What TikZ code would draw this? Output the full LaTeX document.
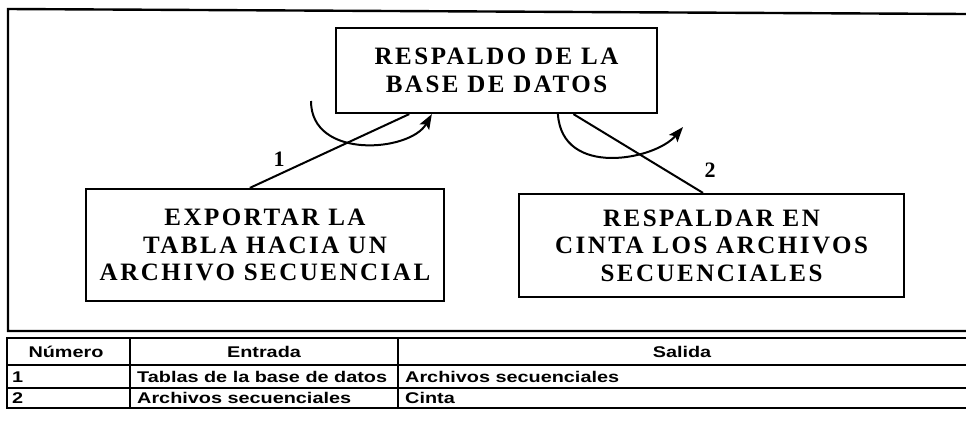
\documentclass[tikz,border=0pt]{standalone}
\usepackage{fontspec}
\usetikzlibrary{arrows.meta,calc}
\newfontfamily\boxfont[LetterSpace=10]{Liberation Serif}
\newfontfamily\labfont{Liberation Serif}
\newfontfamily\tabfont[FakeStretch=1.28]{Liberation Sans}
\tikzset{
  procbox/.style={draw, line width=2.2pt, inner sep=0pt, align=center,
    font=\boxfont\bfseries\fontsize{25}{27.5}\selectfont},
  conn/.style={line width=2pt},
  flowarrow/.style={line width=2pt, -{Stealth[length=15pt,width=11pt,inset=3pt]}},
  numlabel/.style={font=\labfont\bfseries\fontsize{22}{24}\selectfont, inner sep=0pt},
  frameline/.style={line width=2.4pt},
  tabline/.style={line width=1.8pt},
  tabtext/.style={font=\tabfont\bfseries\fontsize{15.5}{17}\selectfont, inner sep=0pt, anchor=base west},
  tabhead/.style={font=\tabfont\bfseries\fontsize{15.5}{17}\selectfont, inner sep=0pt, anchor=base}
}
\begin{document}
\begin{tikzpicture}[x=1pt,y=-1pt]
\useasboundingbox (0,0) rectangle (966,445);

% outer frame of the diagram (open on the right)
\draw[frameline] (966,14) -- (8,9) -- (8,331) -- (966,331);

% process boxes
\node[procbox, minimum width=321pt, minimum height=85pt] (top) at (496.5,70.5)
  {RESPALDO DE LA\\BASE DE DATOS};
\node[procbox, minimum width=358pt, minimum height=112pt] (left) at (265,245)
  {EXPORTAR LA\\TABLA HACIA UN\\ARCHIVO SECUENCIAL};
\node[procbox, minimum width=385pt, minimum height=103pt] (right) at (711.5,245.5)
  {RESPALDAR EN\\CINTA LOS ARCHIVOS\\SECUENCIALES};

% connectors
\draw[conn] ($(left.north west)!0.458!(left.north east)$) -- ($(top.south west)!0.23!(top.south east)$);
\draw[conn] ($(top.south west)!0.738!(top.south east)$) -- ($(right.north west)!0.478!(right.north east)$);

\node[numlabel] (n1) at (279,159) {1};
\node[numlabel] (n2) at (710,170) {2};

% curved arrows
\coordinate (c1s) at (311,101);
\draw[flowarrow] (c1s) .. controls (311,160) and (410,152) .. ($(top.south west)!0.3!(top.south east)$);
\coordinate (c2e) at (683,127);
\draw[flowarrow] ($(top.south west)!0.69!(top.south east)$) .. controls (562,178) and (655,160) .. (c2e);

% table
\draw[tabline] (966,338) -- (7,338) -- (7,408) -- (966,408);
\draw[tabline] (7,365) -- (966,365);
\draw[tabline] (7,388) -- (966,388);
\draw[tabline] (130,338) -- (130,408);
\draw[tabline] (398,338) -- (398,408);

\node[tabhead] (h1) at (66,357) {Número};
\node[tabhead] (h2) at (264,357) {Entrada};
\node[tabhead] (h3) at (682,357) {Salida};

\node[tabtext] (r1a) at (12,382) {1};
\node[tabtext] (r1b) at (137,382) {Tablas de la base de datos};
\node[tabtext] (r1c) at (405,382) {Archivos secuenciales};
\node[tabtext] (r2a) at (12,403) {2};
\node[tabtext] (r2b) at (137,403) {Archivos secuenciales};
\node[tabtext] (r2c) at (405,403) {Cinta};
\end{tikzpicture}
\end{document}
